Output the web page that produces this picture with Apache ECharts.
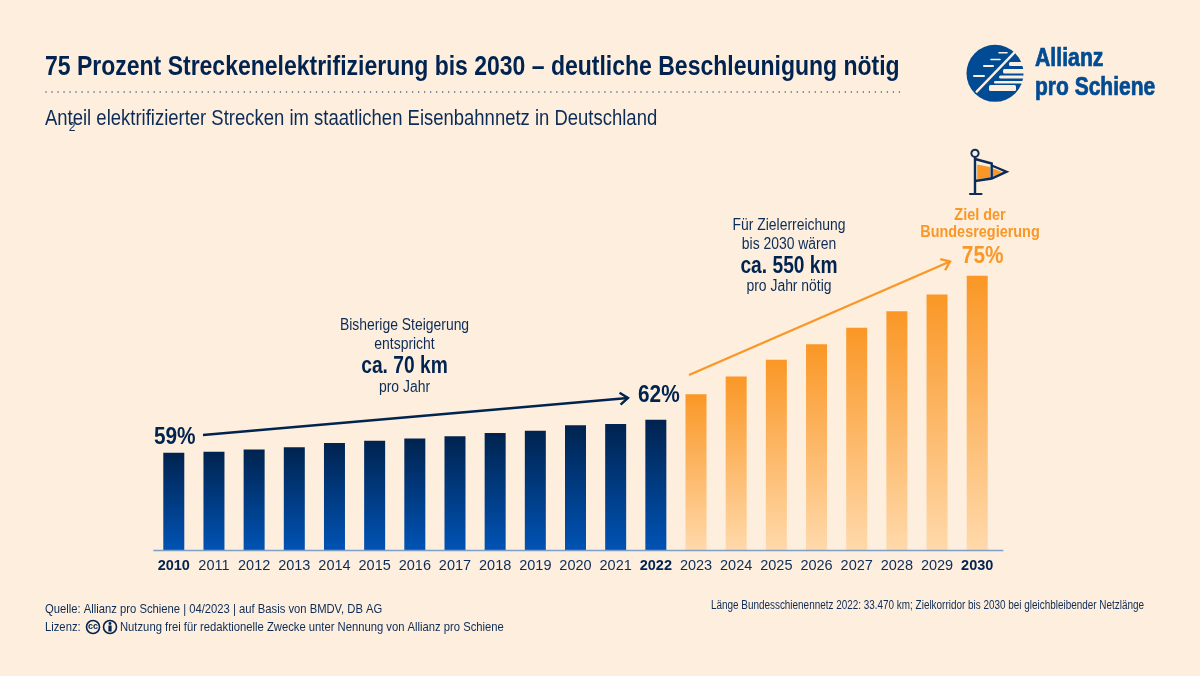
<!DOCTYPE html>
<html lang="de">
<head>
<meta charset="utf-8">
<title>Streckenelektrifizierung</title>
<script src="https://cdn.jsdelivr.net/npm/echarts@6/dist/echarts.min.js"></script>
<style>html,body{margin:0;padding:0;background:#fdeedd}#chart{width:1200px;height:676px}</style>
</head>
<body>
<div id="chart"></div>
<script>
// Jahre und Anteil elektrifizierter Strecken in Prozent
const years = ['2010','2011','2012','2013','2014','2015','2016','2017','2018','2019','2020','2021','2022','2023','2024','2025','2026','2027','2028','2029','2030'];
const shares = [59,59.1,59.3,59.5,59.9,60.1,60.3,60.5,60.8,61.0,61.5,61.6,62,64.3,65.9,67.4,68.8,70.3,71.8,73.3,75];
const lastActualYear = '2022';
const boldYears = ['2010','2022','2030'];

const NAVY = '#00234f', INK = '#0c2c57', ORANGE = '#fa9726', BG = '#fdeedd', LOGO = '#004b93';
const FONT = '"Liberation Sans",Arial,sans-serif';
const CONDENSE = 0.85; // Schriftbreite der Beschriftungen

const grad = (top, bottom) => new echarts.graphic.LinearGradient(0, 0, 0, 1, [{offset: 0, color: top}, {offset: 1, color: bottom}]);
const navyFill = grad(NAVY, '#0053b5');
const orangeFill = grad(ORANGE, '#ffd9ab');

const barData = years.map((y, i) => ({value: shares[i], itemStyle: {color: y <= lastActualYear ? navyFill : orangeFill}}));

// Prozentwerte stehen nur an den drei hervorgehobenen Balken
const valueLabelStyle = {
  '2010': {dx: 1, dy: -16, color: NAVY},
  '2022': {dx: 3, dy: -24, color: NAVY},
  '2030': {dx: 5.5, dy: -19, color: ORANGE}
};
const labelData = boldYears.map(y => [y, shares[years.indexOf(y)]]);
const renderValueLabel = (params, api) => {
  const year = labelData[params.dataIndex][0];
  const look = valueLabelStyle[year];
  const p = api.coord([api.value(0), api.value(1)]);
  return {
    type: 'text', x: p[0] + look.dx, y: p[1] + look.dy, scaleX: CONDENSE,
    style: {text: api.value(1) + '%', fontFamily: FONT, fontWeight: 'bold', fontSize: 24.5, fill: look.color,
      textAlign: 'center', textVerticalAlign: 'middle'}
  };
};

const txt = (x, y, text, size, color, opts = {}, sx = CONDENSE) => ({
  type: 'text', x, y, scaleX: sx, silent: true, z: 10,
  style: Object.assign({text, fontFamily: FONT, fontSize: size, fill: color, textAlign: 'left', textVerticalAlign: 'middle'}, opts)
});
const center = {textAlign: 'center'};
const bold = {fontWeight: 'bold'};
const boldCenter = {textAlign: 'center', fontWeight: 'bold'};
const ln = (x1, y1, x2, y2, stroke, lineWidth, extra = {}) => ({
  type: 'line', silent: true, z: 9, shape: {x1, y1, x2, y2},
  style: Object.assign({stroke, lineWidth, lineCap: 'round', lineJoin: 'round'}, extra)
});
const poly = (points, style, type = 'polyline') => ({type, silent: true, z: 9, shape: {points}, style});
const blockRect = (x, y, width, height) => ({type: 'rect', silent: true, z: 9, shape: {x, y, width, height, r: 1.5}, style: {fill: BG}});

// Pfeil mit offener Spitze
const arrow = (x1, y1, x2, y2, color) => {
  const a = Math.atan2(y2 - y1, x2 - x1), h = 10, s = 0.65;
  return [
    ln(x1, y1, x2, y2, color, 2.4, {lineCap: 'butt'}),
    poly([[x2 - h * Math.cos(a - s), y2 - h * Math.sin(a - s)], [x2, y2], [x2 - h * Math.cos(a + s), y2 - h * Math.sin(a + s)]],
      {stroke: color, lineWidth: 2.4, fill: 'none', lineJoin: 'miter'})
  ];
};

// Logo: Kreis mit Schienenmotiv
const logoHeavy = {fontWeight: 'bold', stroke: LOGO, lineWidth: 0.7};
const logo = [
  {type: 'circle', silent: true, z: 9, shape: {cx: 995, cy: 73.3, r: 28.5}, style: {fill: LOGO}},
  ln(1014.3, 52.7, 976.7, 91.7, BG, 2.4),
  ln(999, 52.7, 1007, 52.7, BG, 1.6), ln(991, 59.5, 1000, 59.5, BG, 1.6),
  ln(984, 66, 993, 66, BG, 2), ln(974, 76, 984, 76, BG, 2),
  blockRect(1009, 62, 16, 4), blockRect(1003, 69, 22, 4.5), blockRect(999, 75.5, 25, 3),
  blockRect(994, 81, 30, 2.5), blockRect(989, 85, 27, 6),
  txt(1035, 59.5, 'Allianz', 25, LOGO, logoHeavy),
  txt(1035, 88, 'pro Schiene', 25, LOGO, logoHeavy, 0.84)
];

// Fahne über dem Zieljahr
const flag = [
  poly([[977.2, 164.5], [990, 167], [990, 178], [977.2, 179]], {fill: ORANGE}, 'polygon'),
  poly([[993, 168.5], [1002, 172], [993, 176.5]], {fill: ORANGE}, 'polygon'),
  ln(975, 157, 975, 194, INK, 2.4, {lineCap: 'butt'}),
  ln(970, 194, 981.5, 194, INK, 2.2),
  {type: 'circle', silent: true, z: 10, shape: {cx: 975, cy: 153.3, r: 3.6}, style: {fill: BG, stroke: INK, lineWidth: 2}},
  poly([[975, 159], [991.7, 163.5], [991.7, 179]], {stroke: INK, lineWidth: 2.4, fill: 'none'}),
  poly([[991.7, 165.5], [1006.5, 171.7], [991.7, 178.5], [975, 181]], {stroke: INK, lineWidth: 2.4, fill: 'none', lineJoin: 'miter'})
];

// Lizenzsymbole in der Fußzeile
const licence = [
  {type: 'circle', silent: true, z: 9, shape: {cx: 93, cy: 627, r: 6.5}, style: {fill: BG, stroke: NAVY, lineWidth: 1.6}},
  txt(93, 627, 'cc', 9, NAVY, boldCenter, 1),
  {type: 'circle', silent: true, z: 9, shape: {cx: 110, cy: 627, r: 6.5}, style: {fill: BG, stroke: NAVY, lineWidth: 1.6}},
  {type: 'circle', silent: true, z: 10, shape: {cx: 110, cy: 623.5, r: 1.4}, style: {fill: NAVY}},
  {type: 'rect', silent: true, z: 10, shape: {x: 108.4, y: 625.5, width: 3.2, height: 6}, style: {fill: NAVY}}
];

const option = {
  backgroundColor: BG,
  animation: false,
  grid: {left: 153.7, width: 843.6, top: 275.7, bottom: 125.7, containLabel: false},
  xAxis: {
    type: 'category', data: years,
    axisLine: {show: false},
    axisTick: {show: false},
    axisLabel: {
      interval: 0, margin: 8,
      formatter: v => boldYears.includes(v) ? `{b|${v}}` : `{n|${v}}`,
      rich: {
        n: {fontFamily: FONT, fontSize: 14.5, color: INK},
        b: {fontFamily: FONT, fontSize: 14.5, fontWeight: 'bold', color: NAVY}
      }
    }
  },
  yAxis: {type: 'value', min: 50.2, max: 75, show: false},
  series: [
    {type: 'bar', data: barData, barWidth: 21, z: 2},
    {type: 'custom', data: labelData, encode: {x: 0, y: 1}, renderItem: renderValueLabel, clip: false, silent: true, z: 5}
  ],
  graphic: [
    txt(45, 67.5, '75 Prozent Streckenelektrifizierung bis 2030 – deutliche Beschleunigung nötig', 28, NAVY, bold, 0.821),
    txt(45, 118.5, 'Anteil elektrifizierter Strecken im staatlichen Eisenbahnnetz in Deutschland', 22, INK, {}, 0.84),
    ln(153.3, 550.5, 1003.3, 550.5, '#7f9fc4', 1.5, {lineCap: 'butt'}),
    // gepunktete Trennlinie unter der Überschrift
    ln(46, 92, 902, 92, '#3a5578', 1.5, {lineDash: [0.01, 6]}),
    txt(72, 127.5, '2', 12, INK, center, 1),
    ...arrow(203, 435, 628, 398, NAVY),
    ...arrow(689, 375, 950, 261.5, ORANGE),
    txt(404.5, 326, 'Bisherige Steigerung', 16, INK, center, 0.87),
    txt(404.5, 345, 'entspricht', 16, INK, center, 0.87),
    txt(404.5, 367, 'ca. 70 km', 23, NAVY, boldCenter, 0.835),
    txt(404.5, 388, 'pro Jahr', 16, INK, center, 0.87),
    txt(789, 226, 'Für Zielerreichung', 16, INK, center, 0.87),
    txt(789, 245, 'bis 2030 wären', 16, INK, center, 0.87),
    txt(789, 267, 'ca. 550 km', 23, NAVY, boldCenter, 0.835),
    txt(789, 287, 'pro Jahr nötig', 16, INK, center, 0.87),
    txt(980, 215, 'Ziel der', 16.5, ORANGE, boldCenter, 0.875),
    txt(980, 232, 'Bundesregierung', 16.5, ORANGE, boldCenter, 0.875),
    txt(45, 609, 'Quelle: Allianz pro Schiene | 04/2023 | auf Basis von BMDV, DB AG', 13, INK, {}, 0.865),
    txt(45, 627, 'Lizenz:', 13, INK, {}, 0.865),
    txt(120, 627, 'Nutzung frei für redaktionelle Zwecke unter Nennung von Allianz pro Schiene', 13, INK, {}, 0.865),
    txt(1144, 606, 'Länge Bundesschienennetz 2022: 33.470 km; Zielkorridor bis 2030 bei gleichbleibender Netzlänge', 12, INK, {textAlign: 'right'}, 0.827),
    ...licence,
    ...flag,
    ...logo
  ]
};
echarts.init(document.getElementById('chart'), null, {renderer: 'canvas'}).setOption(option);
</script>
</body>
</html>
